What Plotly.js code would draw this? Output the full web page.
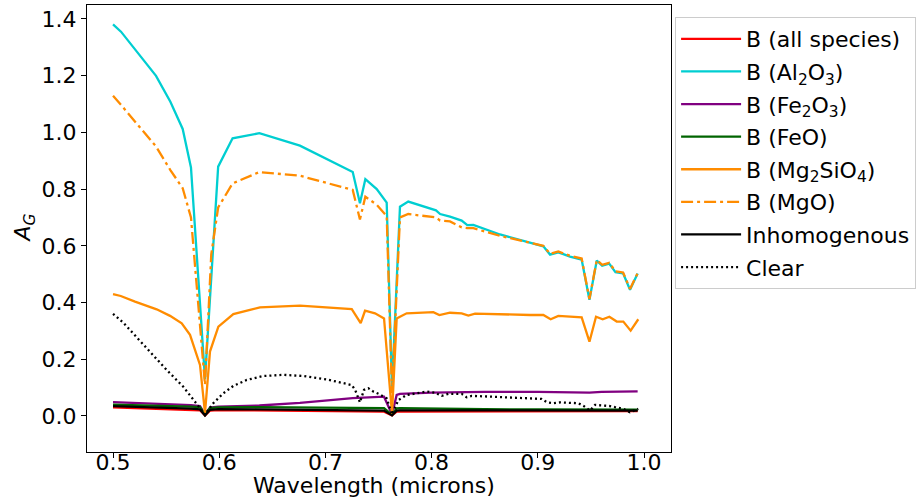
<!DOCTYPE html>
<html>
<head>
<meta charset="utf-8">
<script src="https://cdn.plot.ly/plotly-3.0.1.min.js"></script>
<style>html,body{margin:0;padding:0;background:#fff;}#chart{width:922px;height:501px;}</style>
</head>
<body>
<div id="chart"></div>
<script>
// Wavelengths (microns) for the Al2O3 / MgO curves
const wlAlMg = [0.500, 0.5075, 0.5405, 0.554, 0.5656, 0.5734, 0.5866, 0.5925, 0.599, 0.6126, 0.6378, 0.676, 0.7257, 0.7325, 0.7376, 0.7483, 0.7577, 0.7627, 0.7702, 0.778, 0.8041, 0.808, 0.8173, 0.8283, 0.8336, 0.8393, 0.8644, 0.9052, 0.9115, 0.9193, 0.9303, 0.9413, 0.9486, 0.9555, 0.9606, 0.9672, 0.9731, 0.9803, 0.9868, 0.994];
const agAl2O3 = [1.381, 1.355, 1.199, 1.108, 1.012, 0.876, 0.13, 0.50, 0.879, 0.979, 0.997, 0.953, 0.860, 0.750, 0.835, 0.800, 0.752, 0.10, 0.738, 0.756, 0.725, 0.712, 0.703, 0.689, 0.673, 0.674, 0.640, 0.598, 0.569, 0.577, 0.562, 0.551, 0.410, 0.548, 0.530, 0.537, 0.507, 0.503, 0.445, 0.502];
const agMgO = [1.129, 1.097, 0.950, 0.867, 0.803, 0.700, 0.11, 0.57, 0.735, 0.820, 0.860, 0.847, 0.797, 0.693, 0.773, 0.745, 0.705, 0.08, 0.700, 0.712, 0.700, 0.689, 0.686, 0.665, 0.662, 0.662, 0.635, 0.600, 0.572, 0.580, 0.565, 0.555, 0.412, 0.550, 0.533, 0.540, 0.510, 0.506, 0.448, 0.504];

// Mg2SiO4
const wlMg2SiO4 = [0.500, 0.5073, 0.5207, 0.5411, 0.5537, 0.5647, 0.5725, 0.5819, 0.5866, 0.5913, 0.5992, 0.6133, 0.629, 0.6384, 0.6761, 0.7248, 0.7332, 0.7373, 0.7467, 0.7552, 0.7627, 0.7671, 0.7702, 0.7765, 0.8016, 0.8073, 0.8173, 0.8283, 0.8346, 0.8409, 0.8927, 0.9052, 0.9121, 0.9193, 0.9413, 0.9486, 0.9548, 0.9611, 0.9674, 0.9743, 0.9805, 0.9874, 0.9946];
const agMg2SiO4 = [0.430, 0.423, 0.403, 0.376, 0.353, 0.327, 0.286, 0.180, 0.01, 0.227, 0.315, 0.359, 0.374, 0.383, 0.389, 0.377, 0.327, 0.371, 0.362, 0.344, 0.008, 0.344, 0.350, 0.362, 0.366, 0.356, 0.364, 0.362, 0.354, 0.361, 0.356, 0.356, 0.341, 0.353, 0.348, 0.262, 0.350, 0.341, 0.350, 0.333, 0.333, 0.301, 0.341];

// Clear
const wlClear = [0.500, 0.5097, 0.5317, 0.5506, 0.5662, 0.5772, 0.5866, 0.5944, 0.6039, 0.6133, 0.6259, 0.6415, 0.6604, 0.6792, 0.7012, 0.7248, 0.728, 0.7325, 0.7363, 0.7404, 0.7451, 0.7508, 0.7577, 0.7627, 0.7686, 0.7765, 0.7954, 0.8032, 0.8095, 0.8158, 0.8283, 0.833, 0.8378, 0.8927, 0.9036, 0.9089, 0.9146, 0.9209, 0.9381, 0.9429, 0.9492, 0.9539, 0.968, 0.9727, 0.9805, 0.9868, 0.9946];
const agClear = [0.360, 0.329, 0.239, 0.162, 0.103, 0.050, 0.005, 0.045, 0.080, 0.106, 0.127, 0.141, 0.145, 0.141, 0.129, 0.109, 0.092, 0.048, 0.092, 0.098, 0.086, 0.077, 0.062, 0.005, 0.056, 0.074, 0.086, 0.082, 0.071, 0.078, 0.078, 0.066, 0.071, 0.062, 0.060, 0.048, 0.045, 0.048, 0.045, 0.036, 0.019, 0.039, 0.035, 0.031, 0.025, 0.013, 0.025];

// Low-albedo curves
const wlLow = [0.500, 0.540, 0.5734, 0.5819, 0.5866, 0.5913, 0.599, 0.6378, 0.676, 0.7257, 0.7552, 0.7627, 0.7671, 0.7702, 0.785, 0.80, 0.85, 0.90, 0.9486, 0.96, 0.994];
const agAll = [0.030, 0.026, 0.022, 0.020, 0.002, 0.019, 0.021, 0.020, 0.018, 0.016, 0.015, 0.002, 0.015, 0.015, 0.015, 0.015, 0.015, 0.015, 0.015, 0.016, 0.017];
const agFe2O3 = [0.049, 0.044, 0.038, 0.035, 0.006, 0.030, 0.033, 0.037, 0.046, 0.063, 0.068, 0.005, 0.074, 0.078, 0.081, 0.082, 0.085, 0.085, 0.082, 0.085, 0.087];
const agFeO = [0.040, 0.037, 0.033, 0.031, 0.005, 0.028, 0.030, 0.031, 0.030, 0.029, 0.028, 0.004, 0.027, 0.028, 0.027, 0.026, 0.024, 0.023, 0.022, 0.022, 0.022];
const agInhom = [0.035, 0.031, 0.026, 0.023, 0.002, 0.022, 0.024, 0.023, 0.022, 0.021, 0.019, 0.002, 0.019, 0.020, 0.020, 0.019, 0.019, 0.019, 0.018, 0.019, 0.019];

const seriesNames = ['B (all species)', 'B (Al<sub>2</sub>O<sub>3</sub>)', 'B (Fe<sub>2</sub>O<sub>3</sub>)', 'B (FeO)', 'B (Mg<sub>2</sub>SiO<sub>4</sub>)', 'B (MgO)', 'Inhomogenous', 'Clear'];
const xTicks = [0.5, 0.6, 0.7, 0.8, 0.9, 1.0];
const yTicks = [0.0, 0.2, 0.4, 0.6, 0.8, 1.0, 1.2, 1.4];
const xTitle = 'Wavelength (microns)';
const yTitle = '<i>A</i><sub><i>G</i></sub>';

const LW = 2.3;
function tr(x, y, i, color, dash) {
  return {x: x, y: y, name: seriesNames[i], type: 'scatter', mode: 'lines',
    legendgroup: 'g' + i,
    line: {color: color, width: LW, dash: dash || 'solid'}};
}
const data = [
  tr(wlLow, agAll, 0, '#ff0000'),
  tr(wlAlMg, agAl2O3, 1, '#00ced1'),
  tr(wlLow, agFe2O3, 2, '#800080'),
  tr(wlLow, agFeO, 3, '#006400'),
  tr(wlMg2SiO4, agMg2SiO4, 4, '#ff8c00'),
  tr(wlAlMg, agMgO, 5, '#ff8c00', '12px,4px,3px,4px'),
  tr(wlLow, agInhom, 6, '#000000'),
  tr(wlClear, agClear, 7, '#000000', '2px,3px')
];

const FF = 'DejaVu Sans, sans-serif';
const FS = 22;
const layout = {
  width: 922, height: 501,
  margin: {l: 87, r: 251, t: 5, b: 49, pad: 0},
  paper_bgcolor: '#fff', plot_bgcolor: '#fff',
  font: {family: FF, size: FS, color: '#000'},
  showlegend: true,
  legend: {x: 1.007, y: 0.973, xanchor: 'left', yanchor: 'top',
    bordercolor: '#cccccc', borderwidth: 1, bgcolor: '#fff',
    font: {family: FF, size: FS, color: '#000'},
    traceorder: 'grouped', tracegroupgap: 1, itemwidth: 60},
  xaxis: {range: [0.4755, 1.0254], tickvals: xTicks, ticktext: xTicks.map(v => v.toFixed(1)),
    showgrid: false, zeroline: false, showline: true, mirror: true, linecolor: '#000', linewidth: 1,
    ticks: 'outside', ticklen: 5, tickwidth: 1, tickcolor: '#000', ticklabelstandoff: -14,
    tickfont: {family: FF, size: FS}},
  yaxis: {range: [-0.127, 1.449], tickvals: yTicks, ticktext: yTicks.map(v => v.toFixed(1)),
    showgrid: false, zeroline: false, showline: true, mirror: true, linecolor: '#000', linewidth: 1,
    ticks: 'outside', ticklen: 5, tickwidth: 1, tickcolor: '#000',
    tickfont: {family: FF, size: FS}},
  annotations: [
    {text: xTitle, xref: 'paper', yref: 'paper', x: 0.491, y: -0.076, xanchor: 'center', yanchor: 'middle',
      showarrow: false, font: {family: FF, size: FS}},
    {text: yTitle, xref: 'paper', yref: 'paper', x: -0.107, y: 0.501, xanchor: 'center', yanchor: 'middle',
      textangle: -90, showarrow: false, font: {family: FF, size: FS}}
  ]
};
Plotly.newPlot('chart', data, layout, {displayModeBar: false, staticPlot: true});
</script>
</body>
</html>
